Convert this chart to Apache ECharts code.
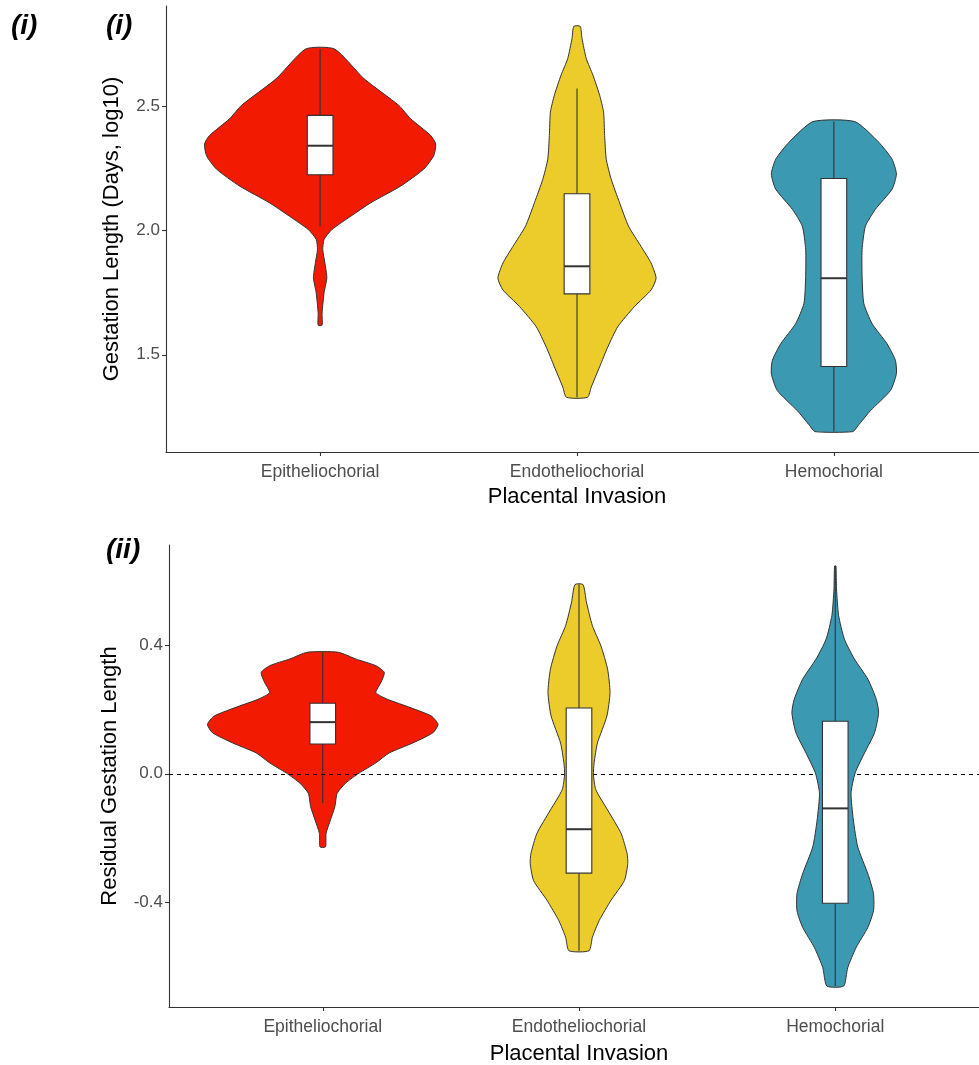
<!DOCTYPE html>
<html>
<head>
<meta charset="utf-8">
<script src="https://cdn.jsdelivr.net/npm/echarts@6/dist/echarts.min.js"></script>
<style>
  html, body { margin: 0; padding: 0; background: #ffffff; }
  #chart { width: 979px; height: 1065px; }
</style>
</head>
<body>
<div id="chart"></div>
<script>
// Placental invasion groups
const categories = ['Epitheliochorial', 'Endotheliochorial', 'Hemochorial'];
const groupColors = ['#F21A00', '#EBCC2A', '#3B9AB2'];

// Panel (i): gestation length (log10 days). Violin profiles: [value, relative density]
const gestEpiProfile = [
  [2.730, 0.125], [2.611, 0.379], [2.503, 0.681], [2.449, 0.784], [2.382, 0.957],
  [2.348, 1.000], [2.301, 0.983], [2.247, 0.897], [2.179, 0.698], [2.112, 0.440],
  [2.058, 0.267], [2.004, 0.103], [1.964, 0.034], [1.923, 0.023], [1.870, 0.041],
  [1.810, 0.058], [1.749, 0.034], [1.668, 0.017], [1.619, 0.017]
];
const gestEndoProfile = [
  [2.821, 0.028], [2.773, 0.043], [2.692, 0.080], [2.625, 0.138], [2.544, 0.196],
  [2.476, 0.230], [2.382, 0.239], [2.287, 0.253], [2.206, 0.296], [2.112, 0.368],
  [2.017, 0.446], [1.936, 0.554], [1.869, 0.641], [1.808, 0.684], [1.761, 0.641],
  [1.694, 0.497], [1.613, 0.353], [1.532, 0.267], [1.452, 0.196], [1.370, 0.123],
  [1.329, 0.091]
];
const gestHemoProfile = [
  [2.438, 0.181], [2.355, 0.388], [2.287, 0.503], [2.227, 0.541], [2.166, 0.503],
  [2.085, 0.359], [2.017, 0.273], [1.923, 0.244], [1.815, 0.244], [1.707, 0.259],
  [1.626, 0.330], [1.545, 0.459], [1.478, 0.532], [1.424, 0.541], [1.356, 0.489],
  [1.275, 0.316], [1.215, 0.209], [1.191, 0.164]
];
// Box stats: [lower whisker, Q1, median, Q3, upper whisker]
const gestBoxStats = [
  [2.017, 2.224, 2.341, 2.463, 2.730],
  [1.329, 1.745, 1.856, 2.148, 2.571],
  [1.191, 1.453, 1.808, 2.209, 2.438]
];
const gestTicks = [1.5, 2.0, 2.5];

// Panel (ii): residual gestation length
const resEpiProfile = [
  [0.379, 0.134], [0.358, 0.286], [0.337, 0.461], [0.316, 0.534], [0.285, 0.505],
  [0.253, 0.461], [0.232, 0.563], [0.211, 0.724], [0.180, 0.942], [0.154, 1.000],
  [0.128, 0.956], [0.096, 0.781], [0.065, 0.577], [0.034, 0.461], [0.002, 0.315],
  [-0.029, 0.199], [-0.061, 0.125], [-0.103, 0.105], [-0.144, 0.067], [-0.186, 0.029],
  [-0.228, 0.024]
];
const resEndoProfile = [
  [0.590, 0.035], [0.536, 0.064], [0.462, 0.116], [0.399, 0.190], [0.326, 0.248],
  [0.253, 0.269], [0.180, 0.242], [0.096, 0.160], [0.034, 0.131], [-0.003, 0.125],
  [-0.050, 0.146], [-0.113, 0.248], [-0.186, 0.365], [-0.249, 0.417], [-0.280, 0.423],
  [-0.333, 0.394], [-0.395, 0.277], [-0.458, 0.175], [-0.510, 0.116], [-0.552, 0.087]
];
const resHemoProfile = [
  [0.648, 0.006], [0.577, 0.011], [0.494, 0.029], [0.420, 0.079], [0.358, 0.166],
  [0.295, 0.283], [0.232, 0.356], [0.190, 0.376], [0.128, 0.341], [0.065, 0.254],
  [0.002, 0.172], [-0.061, 0.137], [-0.144, 0.157], [-0.228, 0.195], [-0.312, 0.283],
  [-0.374, 0.332], [-0.427, 0.332], [-0.479, 0.283], [-0.542, 0.181], [-0.605, 0.108],
  [-0.662, 0.073]
];
const resBoxStats = [
  [-0.092, 0.093, 0.161, 0.220, 0.379],
  [-0.552, -0.310, -0.173, 0.205, 0.590],
  [-0.662, -0.404, -0.108, 0.164, 0.648]
];
const resTicks = [-0.4, 0.0, 0.4];

const FONT = "'Liberation Sans', Arial, sans-serif";
const VIOLIN_HALF = 0.45;   // half of the full violin width (category units)
const BOX_HALF = 0.05;      // half of the box width (category units)
const LINE = '#333333';

// Draws one violin (with its inner box plot) for the group stored in the data item
function makeRenderer(profiles, stats) {
  return function (params, api) {
    const i = api.value(0);
    const band = api.size([1, 0])[0];
    const prof = profiles[i];
    const right = prof.map(function (p) {
      const c = api.coord([i, p[0]]);
      return [c[0] + p[1] * VIOLIN_HALF * band, c[1]];
    });
    const left = prof.slice().reverse().map(function (p) {
      const c = api.coord([i, p[0]]);
      return [c[0] - p[1] * VIOLIN_HALF * band, c[1]];
    });
    const s = stats[i];
    const cx = api.coord([i, s[0]])[0];
    const yMin = api.coord([i, s[0]])[1];
    const yQ1 = api.coord([i, s[1]])[1];
    const yMed = api.coord([i, s[2]])[1];
    const yQ3 = api.coord([i, s[3]])[1];
    const yMax = api.coord([i, s[4]])[1];
    const bw = BOX_HALF * band;
    return {
      type: 'group',
      children: [
        {
          type: 'polygon',
          shape: { points: right.concat(left), smooth: 0.2 },
          style: { fill: groupColors[i], stroke: LINE, lineWidth: 1 }
        },
        {
          type: 'line',
          shape: { x1: cx, y1: yQ3, x2: cx, y2: yMax },
          style: { stroke: LINE, lineWidth: 1.1 }
        },
        {
          type: 'line',
          shape: { x1: cx, y1: yQ1, x2: cx, y2: yMin },
          style: { stroke: LINE, lineWidth: 1.1 }
        },
        {
          type: 'rect',
          shape: { x: cx - bw, y: yQ3, width: 2 * bw, height: yQ1 - yQ3 },
          style: { fill: '#ffffff', stroke: LINE, lineWidth: 1.1 }
        },
        {
          type: 'line',
          shape: { x1: cx - bw, y1: yMed, x2: cx + bw, y2: yMed },
          style: { stroke: LINE, lineWidth: 2 }
        }
      ]
    };
  };
}

function xAxisFor(gridIndex, gap) {
  return {
    type: 'value', gridIndex: gridIndex, min: -0.6, max: 2.6,
    name: 'Placental Invasion', nameLocation: 'middle', nameGap: gap,
    nameTextStyle: { fontFamily: FONT, fontSize: 22, color: '#000000' },
    axisLine: { show: true, onZero: false, lineStyle: { color: LINE, width: 1.1 } },
    axisTick: { show: true, length: 4, customValues: [0, 1, 2], lineStyle: { color: LINE, width: 1.1 } },
    axisLabel: {
      customValues: [0, 1, 2], margin: 11,
      formatter: function (v) { return categories[Math.round(v)]; },
      fontFamily: FONT, fontSize: 17.5, color: '#4d4d4d'
    },
    splitLine: { show: false }
  };
}

function yAxisFor(gridIndex, min, max, ticks, title, gap) {
  return {
    type: 'value', gridIndex: gridIndex, min: min, max: max,
    name: title, nameLocation: 'middle', nameGap: gap,
    nameTextStyle: { fontFamily: FONT, fontSize: 22, color: '#000000' },
    axisLine: { show: true, onZero: false, lineStyle: { color: LINE, width: 1.1 } },
    axisTick: { show: true, length: 4, customValues: ticks, lineStyle: { color: LINE, width: 1.1 } },
    axisLabel: {
      customValues: ticks, margin: 6,
      formatter: function (v) { return v.toFixed(1); },
      fontFamily: FONT, fontSize: 17, color: '#4d4d4d'
    },
    splitLine: { show: false }
  };
}

const gestRender = makeRenderer([gestEpiProfile, gestEndoProfile, gestHemoProfile], gestBoxStats);
const resRender = makeRenderer([resEpiProfile, resEndoProfile, resHemoProfile], resBoxStats);

const series = [];
categories.forEach(function (name, i) {
  series.push({
    type: 'custom', name: name, xAxisIndex: 0, yAxisIndex: 0,
    data: [[i]], renderItem: gestRender, z: 2
  });
});
// the zero reference line sits above the first violin and below the other two
categories.forEach(function (name, i) {
  const s = {
    type: 'custom', name: name, xAxisIndex: 1, yAxisIndex: 1,
    data: [[i]], renderItem: resRender, z: i === 0 ? 1 : 3
  };
  if (i === 0) {
    s.markLine = {
      silent: true, symbol: 'none', label: { show: false }, z: 2,
      lineStyle: { color: '#000000', type: [4, 4], width: 1 },
      data: [{ yAxis: 0 }]
    };
  }
  series.push(s);
});

const chart = echarts.init(document.getElementById('chart'), null, { renderer: 'canvas' });
chart.setOption({
  animation: false,
  backgroundColor: '#ffffff',
  grid: [
    // the plot panels run slightly past the right edge of the page
    { left: 166, top: 6, width: 822, height: 446, outerBoundsMode: 'none', containLabel: false },
    { left: 169, top: 545, width: 820, height: 462, outerBoundsMode: 'none', containLabel: false }
  ],
  xAxis: [xAxisFor(0, 34), xAxisFor(1, 36)],
  yAxis: [
    yAxisFor(0, 1.109, 2.903, gestTicks, 'Gestation Length (Days, log10)', 43),
    yAxisFor(1, -0.7275, 0.7135, resTicks, 'Residual Gestation Length', 48)
  ],
  graphic: [
    { type: 'text', left: 11, top: 12, style: { text: '(i)', font: "italic bold 28px " + FONT, fill: '#000' } },
    { type: 'text', left: 106, top: 12, style: { text: '(i)', font: "italic bold 28px " + FONT, fill: '#000' } },
    { type: 'text', left: 106, top: 536, style: { text: '(ii)', font: "italic bold 28px " + FONT, fill: '#000' } }
  ],
  series: series
});
</script>
</body>
</html>
